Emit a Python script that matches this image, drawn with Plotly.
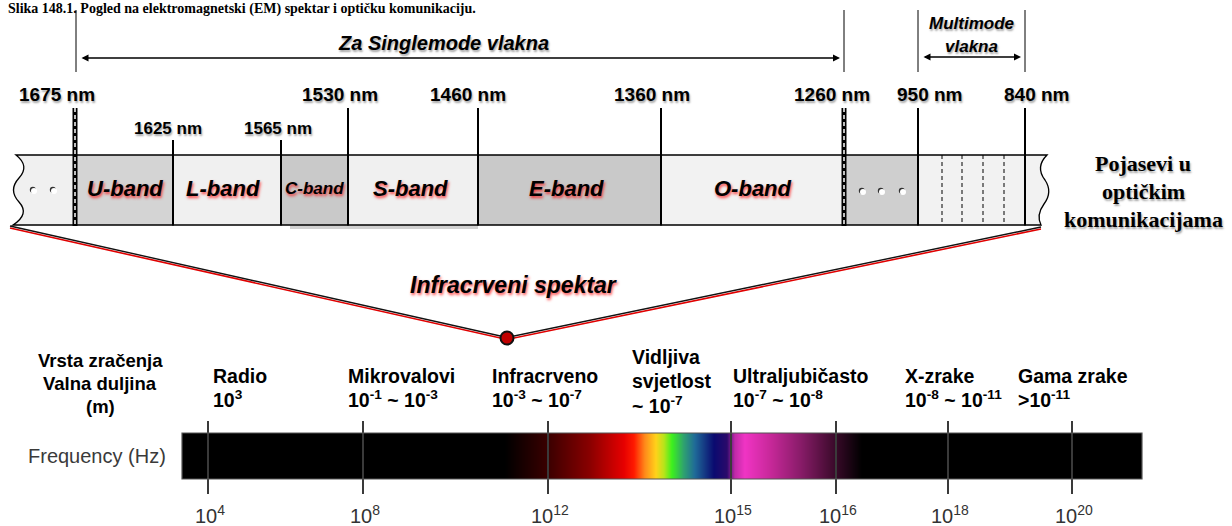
import numpy as np
import plotly.graph_objects as go

W, H = 1232, 526
SANS = "Liberation Sans, Arial, sans-serif"
SERIF = "Liberation Serif, Times New Roman, serif"

# ---------------- data ----------------
title_text = "Slika 148.1. Pogled na elektromagnetski (EM) spektar i optičku komunikaciju."
major_wl = [1675, 1530, 1460, 1360, 1260, 950, 840]
minor_wl = [1625, 1565]
band_names = ["U-band", "L-band", "C-band", "S-band", "E-band", "O-band"]
freq_exponents = [4, 8, 12, 15, 16, 18, 20]
rad_names = ["Radio", "Mikrovalovi", "Infracrveno", "Vidljiva", "Ultraljubičasto", "X-zrake", "Gama zrake"]
rad_ranges = ["10<sup>3</sup>", "10<sup>-1</sup> ~ 10<sup>-3</sup>", "10<sup>-3</sup> ~ 10<sup>-7</sup>",
              "~ 10<sup>-7</sup>", "10<sup>-7</sup> ~ 10<sup>-8</sup>", "10<sup>-8</sup> ~ 10<sup>-11</sup>",
              "&gt;10<sup>-11</sup>"]

# ---------------- layout positions (diagram geometry) ----------------
major_x = [75, 348, 478, 661, 844, 918, 1025]
major_lbl_x = [57, 340, 468, 652, 832, 929, 1036]
minor_x = [173, 281]
minor_lbl_x = [168, 278]
band_edges = [75, 173, 281, 348, 478, 661, 844]
band_fill = ["#d4d4d4", "#f0f0f0", "#c9c9c9", "#f0f0f0", "#c9c9c9", "#f2f2f2"]
band_lbl_x = [125, 223, 314, 410, 566, 753]
band_lbl_size = [22, 22, 17, 22, 22, 22]
freq_tick_x = [208, 363, 548, 731, 836, 948, 1072]
rad_x = [211, 346, 490, 630, 731, 903, 1016]
BT, BB = 155, 225           # band top / bottom
ST, SB = 433, 479           # spectrum bar top / bottom
SX0, SX1 = 182, 1142        # spectrum bar left/right

grad_stops = [(182, "#000000"), (505, "#000000"), (548, "#3a0000"), (590, "#8a0000"),
              (624, "#e60000"), (634, "#ff1a00"), (645, "#ff8a1a"), (656, "#ffd21a"),
              (664, "#b8e41a"), (672, "#3cf01e"), (684, "#2ea070"), (695, "#1f6a98"),
              (714, "#0a0a70"), (727, "#2a0a6a"), (735, "#c02aa8"), (745, "#f034c4"),
              (770, "#c8289a"), (800, "#8a1c6a"), (835, "#3a0a2a"), (862, "#000000"),
              (1142, "#000000")]

fig = go.Figure()
shapes = []
annots = []


def txt(x, y, s, size, color="#000", family=SANS, shadow="none", xanchor="center",
        yanchor="middle", weight="normal", style="normal"):
    annots.append(dict(x=x, y=y, xref="x", yref="y", text=s, showarrow=False,
                       font=dict(family=family, size=size, color=color, shadow=shadow,
                                 weight=weight, style=style),
                       xanchor=xanchor, yanchor=yanchor))


def vline(x, y0, y1, width=2, color="#000", dash="solid"):
    shapes.append(dict(type="line", x0=x, x1=x, y0=y0, y1=y1, xref="x", yref="y",
                       line=dict(color=color, width=width, dash=dash), layer="above"))


# ---------------- spectrum gradient bar ----------------
cscale = [[(sx - SX0) / (SX1 - SX0), c] for sx, c in grad_stops]
edges = np.linspace(SX0, SX1, 961)
centers = (edges[:-1] + edges[1:]) / 2
fig.add_trace(go.Heatmap(x=edges, y=[ST, SB], z=[centers], colorscale=cscale,
                         zmin=SX0, zmax=SX1, showscale=False, hoverinfo="skip"))
shapes.append(dict(type="rect", x0=SX0, x1=SX1, y0=ST, y1=SB, xref="x", yref="y",
                   line=dict(color="#555", width=1.2), layer="above"))

# frequency ticks
for fx in freq_tick_x:
    fig.add_trace(go.Scatter(x=[fx, fx], y=[421, 494], mode="lines",
                             line=dict(color="#3a3a3a", width=2), hoverinfo="skip", showlegend=False))
for fx, e in zip(freq_tick_x, freq_exponents):
    txt(fx + 2, 514, f"10<sup>{e}</sup>", 20, color="#333")

txt(168, 456, "Frequency (Hz)", 20, color="#3a3a3a", xanchor="right")

# radiation labels
for rx, nm, rr in zip(rad_x, rad_names, rad_ranges):
    if nm == "Vidljiva":
        txt(rx, 357, "Vidljiva", 19.5, xanchor="left", weight="bold")
        txt(rx, 381, "svjetlost", 19.5, xanchor="left", weight="bold")
        txt(rx, 405, rr, 19.5, xanchor="left", weight="bold")
    else:
        txt(rx, 376, nm, 19.5, xanchor="left", weight="bold")
        txt(rx, 399, rr, 19.5, xanchor="left", weight="bold")

txt(100, 360, "Vrsta zračenja", 18.5, weight="bold")
txt(100, 383, "Valna duljina", 18.5, weight="bold")
txt(100, 406, "(m)", 18.5, weight="bold")

# ---------------- band strip ----------------
shapes.append(dict(type="path", xref="x", yref="y",
                   path=f"M 75 {BT} L 16 {BT} Q 30 166 19 178 Q 8 190 19 202 Q 30 214 13 {BB} L 75 {BB} Z",
                   fillcolor="#f0f0f0", line=dict(color="#000", width=1.3), layer="below"))
shapes.append(dict(type="path", xref="x", yref="y",
                   path=f"M 1025 {BT} L 1047 {BT} Q 1035 167 1045 180 Q 1053 192 1044 204 Q 1036 215 1041 {BB} L 1025 {BB} Z",
                   fillcolor="#f2f2f2", line=dict(color="#000", width=1.3), layer="below"))
shapes.append(dict(type="rect", xref="x", yref="y", x0=290, x1=478, y0=BB, y1=BB + 4,
                   fillcolor="rgba(0,0,0,0.18)", line=dict(width=0), layer="below"))
for i in range(len(band_names)):
    shapes.append(dict(type="rect", xref="x", yref="y", x0=band_edges[i], x1=band_edges[i + 1],
                       y0=BT, y1=BB, fillcolor=band_fill[i], line=dict(color="#000", width=1.3),
                       layer="below"))
shapes.append(dict(type="rect", xref="x", yref="y", x0=844, x1=918, y0=BT, y1=BB,
                   fillcolor="#cfcfcf", line=dict(color="#000", width=1.3), layer="below"))
shapes.append(dict(type="rect", xref="x", yref="y", x0=918, x1=1025, y0=BT, y1=BB,
                   fillcolor="#f2f2f2", line=dict(color="#000", width=1.3), layer="below"))
for dx in [942, 962, 983, 1004]:
    vline(dx, BT, BB, width=1, dash="4px,3px")

for mx in major_x:
    if mx in (75, 844):
        vline(mx, 108, BB + 1, width=5)
        vline(mx, 108, BB + 1, width=1.5, color="#fff", dash="4px,3px")
    else:
        vline(mx, 108, BB, width=2)
for mx in minor_x:
    vline(mx, 140, BB, width=2)
for tx in [76, 844, 918, 1025]:
    vline(tx, 10, 72, width=1)

# band dots (white with dark shadow)
dot_x = [34, 54, 863, 882, 903]
dot_y = [191, 191, 192, 192, 192]
fig.add_trace(go.Scatter(x=[d - 1.2 for d in dot_x], y=[d - 1.2 for d in dot_y], mode="markers",
                         marker=dict(symbol="circle", size=6, color="#333"),
                         hoverinfo="skip", showlegend=False))
fig.add_trace(go.Scatter(x=dot_x, y=dot_y, mode="markers",
                         marker=dict(symbol="circle", size=6, color="#ffffff", line=dict(width=0)),
                         hoverinfo="skip", showlegend=False))

shadow_top = "1px 2px 2px rgba(0,0,0,0.35)"
shadow_red = "1px 2px 3px rgba(255,0,0,0.75)"
for lx, wl in zip(major_lbl_x, major_wl):
    txt(lx, 94, f"{wl} nm", 19, shadow=shadow_top, weight="bold")
for lx, wl in zip(minor_lbl_x, minor_wl):
    txt(lx, 128, f"{wl} nm", 17, shadow=shadow_top, weight="bold")
for lx, bn, bs in zip(band_lbl_x, band_names, band_lbl_size):
    txt(lx, 188, bn, bs, shadow=shadow_red, weight="bold", style="italic")

txt(1143, 163, "Pojasevi u", 22, family=SERIF, shadow=shadow_top, weight="bold")
txt(1143, 191, "optičkim", 22, family=SERIF, shadow=shadow_top, weight="bold")
txt(1143, 219, "komunikacijama", 22, family=SERIF, shadow=shadow_top, weight="bold")

annots.append(dict(x=840, y=58, ax=80, ay=58, xref="x", yref="y", axref="x", ayref="y", text="",
                   showarrow=True, arrowhead=2, startarrowhead=2, arrowside="end+start",
                   arrowsize=1, arrowwidth=1.4, arrowcolor="#000", standoff=0, startstandoff=0))
annots.append(dict(x=1021, y=57, ax=922, ay=57, xref="x", yref="y", axref="x", ayref="y", text="",
                   showarrow=True, arrowhead=2, startarrowhead=2, arrowside="end+start",
                   arrowsize=1, arrowwidth=1.4, arrowcolor="#000", standoff=0, startstandoff=0))
txt(443, 43, "Za Singlemode vlakna", 20, shadow=shadow_top, weight="bold", style="italic")
txt(971, 23, "Multimode", 17, shadow=shadow_top, weight="bold", style="italic")
txt(971, 46, "vlakna", 17, shadow=shadow_top, weight="bold", style="italic")

# fan lines to the IR point
fig.add_trace(go.Scatter(x=[10, 507, 1041], y=[228, 339.5, 229], mode="lines",
                         line=dict(color="#e00000", width=1.6), hoverinfo="skip", showlegend=False))
fig.add_trace(go.Scatter(x=[10, 507, 1041], y=[226, 337.5, 227], mode="lines",
                         line=dict(color="#111", width=1.4), hoverinfo="skip", showlegend=False))
fig.add_trace(go.Scatter(x=[507], y=[338], mode="markers",
                         marker=dict(size=13, color="#c00000", line=dict(color="#111", width=2)),
                         hoverinfo="skip", showlegend=False))
txt(513, 285, "Infracrveni spektar", 23, shadow=shadow_red, weight="bold", style="italic")

# title (top-left, paper-referenced)
annots.append(dict(x=0.006, y=1.0, xref="paper", yref="paper", text=title_text, showarrow=False,
                   font=dict(family=SERIF, size=14, color="#000", weight="bold"),
                   xanchor="left", yanchor="top", borderpad=0))

fig.update_layout(
    width=W, height=H, margin=dict(l=0, r=0, t=0, b=0),
    paper_bgcolor="#ffffff", plot_bgcolor="#ffffff",
    xaxis=dict(range=[0, W], visible=False, fixedrange=True),
    yaxis=dict(range=[H, 0], visible=False, fixedrange=True),
    shapes=shapes, annotations=annots, showlegend=False,
)

fig.write_html("out.html", config={"displayModeBar": False},
               post_script="document.body.style.margin='0px';")
